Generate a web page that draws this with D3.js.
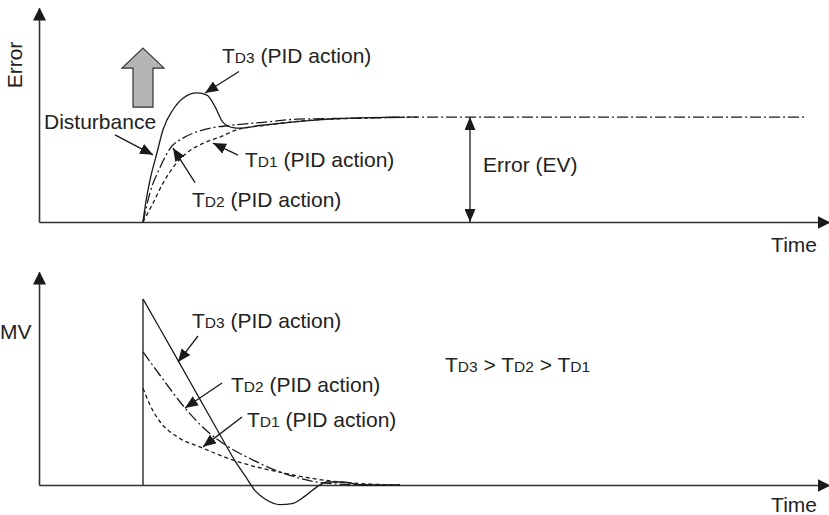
<!DOCTYPE html>
<html>
<head>
<meta charset="utf-8">
<script src="https://cdn.jsdelivr.net/npm/d3@7"></script>
<style>
  body { margin: 0; background: #fff; }
  svg { display: block; font-family: "Liberation Sans", Arial, sans-serif; }
  .curve { fill: none; stroke: #1a1a1a; stroke-width: 1.3; }
  .axis .domain { stroke: #333; stroke-width: 1.6; }
  .lbl { fill: #222; font-size: 21px; }
  .ptr { stroke: #1a1a1a; stroke-width: 1.3; fill: none; }
</style>
</head>
<body>
<div id="chart"></div>
<script>
// time is in tenths of the picture's time unit, 0 = disturbance
// error curves (top), value 1 = steady error EV
var errTd3 = [[0,0],[0.2,0.14],[0.7,0.40],[1.4,0.66],[2.0,0.88],[3.0,1.07],[4.0,1.18],[5.4,1.23],
  [6.4,1.21],[7.2,1.10],[8.0,0.95],[9.0,0.90],[9.7,0.895],[11.7,0.92],[15.7,0.96],[20.7,0.99],[25.7,1.0]];
var errTd2 = [[0,0],[0.7,0.28],[1.7,0.52],[2.7,0.70],[4.0,0.80],[5.4,0.86],[7.0,0.90],[8.7,0.92],
  [12.0,0.95],[15.4,0.98],[21.7,0.99],[27.7,1.0],[66.4,1.0]];
var errTd1 = [[0,0],[1.0,0.18],[2.0,0.37],[3.0,0.52],[4.4,0.66],[6.0,0.75],[7.7,0.81],[9.4,0.88],
  [12.0,0.92],[15.4,0.96],[21.7,0.99],[27.7,1.0]];

// manipulated value curves (bottom)
var mvTd3 = [[0,1.0],[1.7,0.84],[3.5,0.67],[5.7,0.46],[7.7,0.27],[9.2,0.13],[10.2,0.05],[11.2,-0.03],
  [12.2,-0.075],[13.7,-0.105],[14.9,-0.1],[16.2,-0.06],[17.4,-0.01],[18.4,0.016],[20.0,0.016],[22.0,0],[25.7,0]];
var mvTd2 = [[0,0.715],[1.7,0.59],[4.2,0.414],[6.4,0.29],[8.7,0.20],[11.0,0.134],[13.7,0.07],
  [16.0,0.032],[18.2,0.01],[22.7,0]];
var mvTd1 = [[0,0.52],[0.7,0.43],[1.7,0.34],[3.4,0.26],[5.9,0.20],[9.0,0.134],[14.0,0.065],
  [19.0,0.02],[22.7,0.005],[25.7,0]];

var timeDomain = [-10.4, 68.6],
    errDomain = [0, 2.04],
    mvDomain = [0, 1.145];

var width = 829, height = 515;

var svg = d3.select("#chart").append("svg")
    .attr("width", width)
    .attr("height", height);

var defs = svg.append("defs");
// axis arrow head
defs.append("marker")
    .attr("id", "axisHead")
    .attr("viewBox", "0 -7 13 14")
    .attr("refX", 12).attr("refY", 0)
    .attr("markerWidth", 13).attr("markerHeight", 14)
    .attr("markerUnits", "userSpaceOnUse")
    .attr("orient", "auto")
    .append("path").attr("d", "M0,-6.5L13,0L0,6.5Z").attr("fill", "#1a1a1a");
// pointer arrow head
defs.append("marker")
    .attr("id", "ptrHead")
    .attr("viewBox", "0 -5.5 13 11")
    .attr("refX", 13).attr("refY", 0)
    .attr("markerWidth", 13).attr("markerHeight", 11)
    .attr("markerUnits", "userSpaceOnUse")
    .attr("orient", "auto-start-reverse")
    .append("path").attr("d", "M0,-5.5L13,0L0,5.5Z").attr("fill", "#1a1a1a");

var x = d3.scaleLinear(timeDomain, [39, 829]);
var yTop = d3.scaleLinear(errDomain, [222, 8]);
var yBot = d3.scaleLinear(mvDomain, [485, 272]);

function drawAxes(y) {
    var gx = svg.append("g").attr("class", "axis")
        .attr("transform", "translate(0," + y(0) + ")")
        .call(d3.axisBottom(x).tickValues([]).tickSizeOuter(0));
    gx.select(".domain").attr("marker-end", "url(#axisHead)");
    var gy = svg.append("g").attr("class", "axis")
        .attr("transform", "translate(" + x.range()[0] + ",0)")
        .call(d3.axisLeft(y).tickValues([]).tickSizeOuter(0));
    gy.select(".domain").attr("marker-end", "url(#axisHead)");
}

function drawCurve(data, y, dash) {
    var line = d3.line()
        .x(function (d) { return x(d[0]); })
        .y(function (d) { return y(d[1]); })
        .curve(d3.curveMonotoneX);
    svg.append("path").datum(data)
        .attr("class", "curve")
        .attr("stroke-dasharray", dash)
        .attr("d", line);
}

// text with small "D1" style subscripts; parts = [text, small?]
function label(px, py, parts) {
    var t = svg.append("text").attr("class", "lbl").attr("x", px).attr("y", py);
    parts.forEach(function (p) {
        t.append("tspan").text(p[0]).style("font-size", p[1] ? "15.5px" : null);
    });
    return t;
}

function pointer(y, from, to, both) {
    svg.append("line").attr("class", "ptr")
        .attr("x1", x(from[0])).attr("y1", y(from[1]))
        .attr("x2", x(to[0])).attr("y2", y(to[1]))
        .attr("marker-end", "url(#ptrHead)")
        .attr("marker-start", both ? "url(#ptrHead)" : null);
}

function td(n) { return [["T"], ["D" + n, true], [" (PID action)"]]; }

// ---- top: error
drawAxes(yTop);
drawCurve(errTd1, yTop, "4,3");
drawCurve(errTd2, yTop, "11,3,2,3");
drawCurve(errTd3, yTop, null);

svg.append("text").attr("class", "lbl")
    .attr("transform", "translate(22," + 65 + ") rotate(-90)")
    .attr("text-anchor", "middle").text("Error");
svg.append("text").attr("class", "lbl")
    .attr("x", 817).attr("y", 252).attr("text-anchor", "end").text("Time");

// disturbance block arrow, centred on the disturbance time
var bx = x(0), bTip = yTop(1.657), bBase = yTop(1.095);
svg.append("path")
    .attr("d", "M" + bx + "," + bTip + "L" + (bx + 21) + "," + (bTip + 20) + "H" + (bx + 10) +
        "V" + bBase + "H" + (bx - 10) + "V" + (bTip + 20) + "H" + (bx - 21) + "Z")
    .attr("fill", "#b5b5b5").attr("stroke", "#333").attr("stroke-width", 1.2);

label(44, 129, [["Disturbance"]]);
pointer(yTop, [-2.8, 0.83], [1.0, 0.64]);

label(222, 63, td(3));
pointer(yTop, [9.6, 1.435], [6.2, 1.23]);

label(245, 167, td(1));
pointer(yTop, [9.5, 0.638], [7.0, 0.752]);

label(192, 207, td(2));
pointer(yTop, [5.2, 0.375], [3.0, 0.705]);

// error (EV) span
pointer(yTop, [32.7, 0], [32.7, 1], true);
label(483, 172, [["Error (EV)"]]);

// ---- bottom: manipulated value
drawAxes(yBot);
svg.append("line").attr("class", "curve")
    .attr("x1", x(0)).attr("x2", x(0))
    .attr("y1", yBot(0)).attr("y2", yBot(mvTd3[0][1]));
drawCurve(mvTd1, yBot, "4,3");
drawCurve(mvTd2, yBot, "11,3,2,3");
drawCurve(mvTd3, yBot, null);

label(0, 339, [["MV"]]);
svg.append("text").attr("class", "lbl")
    .attr("x", 817).attr("y", 512).attr("text-anchor", "end").text("Time");

label(192, 328, td(3));
pointer(yBot, [5.5, 0.801], [3.5, 0.661]);

label(231, 392, td(2));
pointer(yBot, [7.9, 0.548], [4.2, 0.414]);

label(247, 427, td(1));
pointer(yBot, [9.9, 0.366], [6.0, 0.205]);

label(445, 372, [["T"], ["D3", true], [" > T"], ["D2", true], [" > T"], ["D1", true]]);
</script>
</body>
</html>
